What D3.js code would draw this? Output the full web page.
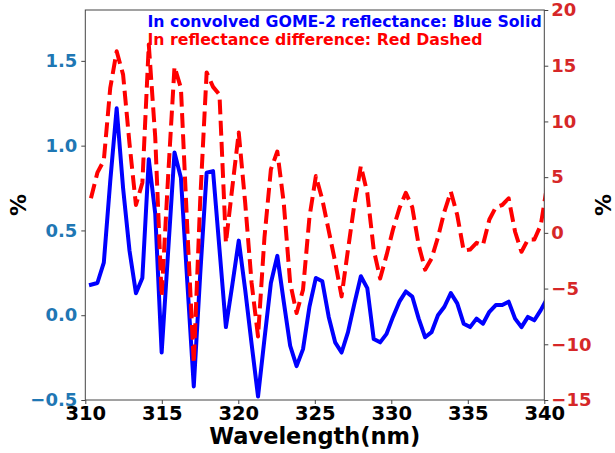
<!DOCTYPE html>
<html>
<head>
<meta charset="utf-8">
<script src="https://cdn.jsdelivr.net/npm/d3@7"></script>
<style>
  html, body { margin: 0; padding: 0; background: #fff; }
  svg { display: block; font-family: "DejaVu Sans", sans-serif; font-weight: bold; }
</style>
</head>
<body>
<svg id="chart" width="615" height="453"></svg>
<script>
// Wavelength grid (nm)
const wavelengths = [
  310.37, 310.79, 311.21, 311.63, 312.05, 312.47, 312.89, 313.31, 313.73, 314.15,
  314.57, 314.99, 315.41, 315.83, 316.25, 316.67, 317.09, 317.51, 317.93, 318.35,
  318.77, 319.19, 319.61, 320.03, 320.45, 320.87, 321.29, 321.71, 322.13, 322.55,
  322.97, 323.39, 323.81, 324.23, 324.65, 325.07, 325.49, 325.91, 326.33, 326.75,
  327.17, 327.59, 328.01, 328.43, 328.85, 329.27, 329.69, 330.11, 330.53, 330.95,
  331.37, 331.79, 332.21, 332.63, 333.05, 333.47, 333.89, 334.31, 334.73, 335.15,
  335.57, 335.99, 336.41, 336.83, 337.25, 337.67, 338.09, 338.51, 338.93, 339.35,
  339.77, 340.19
];

// In convolved GOME-2 reflectance (%), left axis
const convolvedReflectance = [
  0.18, 0.19, 0.31, 0.79, 1.22, 0.75, 0.38, 0.13, 0.22, 0.92,
  0.60, -0.22, 0.37, 0.96, 0.81, 0.19, -0.42, 0.24, 0.84, 0.85,
  0.39, -0.07, 0.18, 0.44, 0.15, -0.17, -0.48, -0.14, 0.19, 0.35,
  0.08, -0.18, -0.30, -0.20, 0.05, 0.22, 0.20, -0.01, -0.16, -0.22,
  -0.10, 0.07, 0.23, 0.16, -0.14, -0.16, -0.11, -0.01, 0.08, 0.14,
  0.11, -0.02, -0.13, -0.10, 0.00, 0.05, 0.13, 0.07, -0.05, -0.07,
  -0.02, -0.05, 0.02, 0.06, 0.06, 0.08, -0.02, -0.07, -0.01, -0.03,
  0.03, 0.10
];

// In reflectance difference (%), right axis
const reflectanceDifference = [
  3.1, 5.4, 6.5, 13.0, 16.3, 14.2, 8.0, 2.5, 4.5, 16.9,
  8.6, -5.7, 5.0, 14.9, 13.0, 0.3, -11.7, 2.9, 14.4, 13.1,
  12.4, -0.9, 4.1, 9.0, 2.7, -4.5, -9.3, -0.4, 5.7, 7.3,
  2.7, -4.5, -7.2, -5.1, 1.4, 5.1, 3.0, 0.2, -2.6, -5.7,
  -1.5, 2.6, 6.0, 3.6, -1.5, -4.1, -2.0, 0.3, 2.2, 3.6,
  2.3, -1.1, -3.3, -2.3, -0.4, 1.9, 3.7, 1.6, -1.6, -1.5,
  -0.9, -1.1, 1.2, 2.3, 2.5, 3.1, 0.1, -1.7, -0.6, -0.6,
  0.7, 4.3
];

const xTicks = [310, 315, 320, 325, 330, 335, 340];
const leftTicks = [-0.5, 0.0, 0.5, 1.0, 1.5];
const rightTicks = [-15, -10, -5, 0, 5, 10, 15, 20];

const legendLines = [
  { text: "In convolved GOME-2 reflectance: Blue Solid", color: "#0000ff" },
  { text: "In reflectance difference: Red Dashed", color: "#ff0000" }
];

const svg = d3.select("#chart");
const plot = { left: 85.3, right: 544.3, top: 10, bottom: 400 };

const x = d3.scaleLinear().domain([310, 340]).range([plot.left, plot.right]);
const yL = d3.scaleLinear().domain([-0.5, 1.8]).range([plot.bottom, plot.top]);
const yR = d3.scaleLinear().domain([-15, 20]).range([plot.bottom, plot.top]);

const fmtMinus = s => s.replace("-", "\u2212");

svg.append("defs").append("clipPath").attr("id", "plotClip")
  .append("rect")
  .attr("x", plot.left).attr("y", plot.top)
  .attr("width", plot.right - plot.left).attr("height", plot.bottom - plot.top);

// Lines
const lineL = d3.line().x((d, i) => x(wavelengths[i])).y(d => yL(d));
const lineR = d3.line().x((d, i) => x(wavelengths[i])).y(d => yR(d));

const lines = svg.append("g").attr("clip-path", "url(#plotClip)");
lines.append("path")
  .datum(convolvedReflectance)
  .attr("d", lineL)
  .attr("fill", "none")
  .attr("stroke", "#0000ff")
  .attr("stroke-width", 4)
  .attr("stroke-linejoin", "round")
  .attr("stroke-linecap", "square");

lines.append("path")
  .datum(reflectanceDifference)
  .attr("d", lineR)
  .attr("fill", "none")
  .attr("stroke", "#ff0000")
  .attr("stroke-width", 4)
  .attr("stroke-dasharray", "14.8,6.4")
  .attr("stroke-linejoin", "round");

// Frame
svg.append("rect")
  .attr("x", plot.left).attr("y", plot.top)
  .attr("width", plot.right - plot.left).attr("height", plot.bottom - plot.top)
  .attr("fill", "none").attr("stroke", "#444").attr("stroke-width", 1);

// Axes
function styleAxis(g, color, size) {
  g.select(".domain").remove();
  g.selectAll(".tick line").attr("stroke", "#444");
  g.selectAll(".tick text")
    .attr("fill", color)
    .attr("font-family", "DejaVu Sans, sans-serif")
    .attr("font-weight", "bold")
    .attr("font-size", size);
}

const gx = svg.append("g").attr("transform", `translate(0,${plot.bottom})`)
  .call(d3.axisBottom(x).tickValues(xTicks).tickFormat(d3.format("d")).tickSize(4).tickPadding(2));
styleAxis(gx, "#000", 19.5);

const gl = svg.append("g").attr("transform", `translate(${plot.left},0)`)
  .call(d3.axisLeft(yL).tickValues(leftTicks).tickFormat(d => fmtMinus(d3.format(".1f")(d))).tickSize(4).tickPadding(4));
styleAxis(gl, "#1f77b4", 18);

const gr = svg.append("g").attr("transform", `translate(${plot.right},0)`)
  .call(d3.axisRight(yR).tickValues(rightTicks).tickFormat(d => fmtMinus(d3.format("d")(d))).tickSize(4).tickPadding(3));
styleAxis(gr, "#d62728", 18);

// Axis titles
svg.append("text")
  .attr("x", (plot.left + plot.right) / 2).attr("y", 444)
  .attr("text-anchor", "middle").attr("font-size", 22.5).attr("fill", "#000")
  .text("Wavelength(nm)");

svg.append("text")
  .attr("transform", `translate(26,${(plot.top + plot.bottom) / 2}) rotate(-90)`)
  .attr("text-anchor", "middle").attr("font-size", 22).attr("fill", "#000")
  .text("%");

svg.append("text")
  .attr("transform", `translate(611,${(plot.top + plot.bottom) / 2}) rotate(-90)`)
  .attr("text-anchor", "middle").attr("font-size", 22).attr("fill", "#000")
  .text("%");

// Legend text
svg.append("g").selectAll("text")
  .data(legendLines)
  .join("text")
  .attr("x", 147.5)
  .attr("y", (d, i) => 27 + i * 17.5)
  .attr("font-size", 15.75)
  .attr("fill", d => d.color)
  .text(d => d.text);
</script>
</body>
</html>
